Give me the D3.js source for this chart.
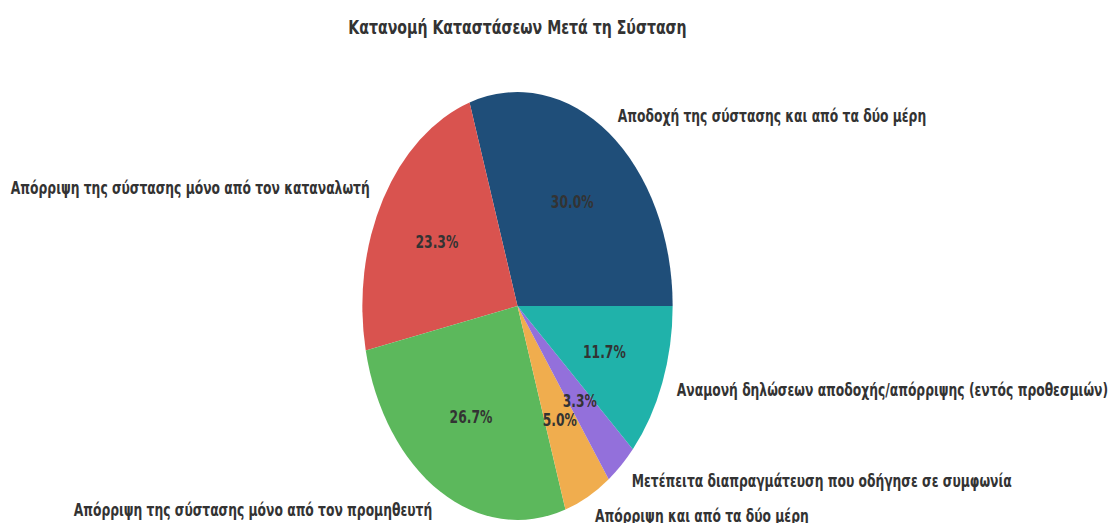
<!DOCTYPE html>
<html>
<head>
<meta charset="utf-8">
<script src="https://cdn.jsdelivr.net/npm/d3@7"></script>
<style>
  body { margin: 0; background: #fff; }
  text { font-family: "DejaVu Sans", sans-serif; font-weight: bold; fill: #333; }
</style>
</head>
<body>
<div id="chart"></div>
<script>
// data
const categories = [
  "Αποδοχή της σύστασης και από τα δύο μέρη",
  "Απόρριψη της σύστασης μόνο από τον καταναλωτή",
  "Απόρριψη της σύστασης μόνο από τον προμηθευτή",
  "Απόρριψη και από τα δύο μέρη",
  "Μετέπειτα διαπραγμάτευση που οδήγησε σε συμφωνία",
  "Αναμονή δηλώσεων αποδοχής/απόρριψης (εντός προθεσμιών)"
];
const counts = [18, 14, 16, 3, 2, 7];
const colors = ["#1f4e79", "#d9534f", "#5cb85c", "#f0ad4e", "#9370db", "#20b2aa"];
const title = "Κατανομή Καταστάσεων Μετά τη Σύσταση";

var width = 1108;
var height = 523;
var cx = 517.5, cy = 306;
var radius = 214;
var sx = 0.725; // picture is squeezed sideways

let svg = d3.select('#chart')
    .append('svg')
    .attr('width', width)
    .attr('height', height);

svg.append('rect')
    .attr('width', width)
    .attr('height', height)
    .attr('fill', '#fff');

let g = svg.append('g')
    .attr('transform', `translate(${cx},${cy}) scale(${sx},1)`);

// matplotlib style: start at 3 o'clock, go counter-clockwise
let pie = d3.pie()
    .sort(null)
    .value(d => d)
    .startAngle(Math.PI / 2)
    .endAngle(Math.PI / 2 - 2 * Math.PI);

let arcs = pie(counts);
let total = d3.sum(counts);

let arc = d3.arc().innerRadius(0).outerRadius(radius);

g.selectAll('path')
    .data(arcs)
    .enter()
    .append('path')
    .attr('d', arc)
    .attr('fill', (d, i) => colors[i]);

function pos(d, r) {
    let a = (d.startAngle + d.endAngle) / 2;
    return [r * Math.sin(a), -r * Math.cos(a)];
}

g.selectAll('.lbl')
    .data(arcs)
    .enter()
    .append('text')
    .attr('class', 'lbl')
    .attr('x', d => pos(d, radius * 1.1)[0])
    .attr('y', d => pos(d, radius * 1.1)[1])
    .attr('dy', '0.35em')
    .attr('text-anchor', d => pos(d, 1)[0] > 0 ? 'start' : 'end')
    .attr('font-size', 17)
    .text((d, i) => categories[i]);

g.selectAll('.pct')
    .data(arcs)
    .enter()
    .append('text')
    .attr('class', 'pct')
    .attr('x', d => pos(d, radius * 0.6)[0])
    .attr('y', d => pos(d, radius * 0.6)[1])
    .attr('dy', '0.35em')
    .attr('text-anchor', 'middle')
    .attr('font-size', 17)
    .text(d => (d.value / total * 100).toFixed(1) + '%');

svg.append('text')
    .attr('transform', `translate(${cx},27) scale(${sx},1)`)
    .attr('dy', '0.35em')
    .attr('text-anchor', 'middle')
    .attr('font-size', 19.5)
    .text(title);
</script>
</body>
</html>
